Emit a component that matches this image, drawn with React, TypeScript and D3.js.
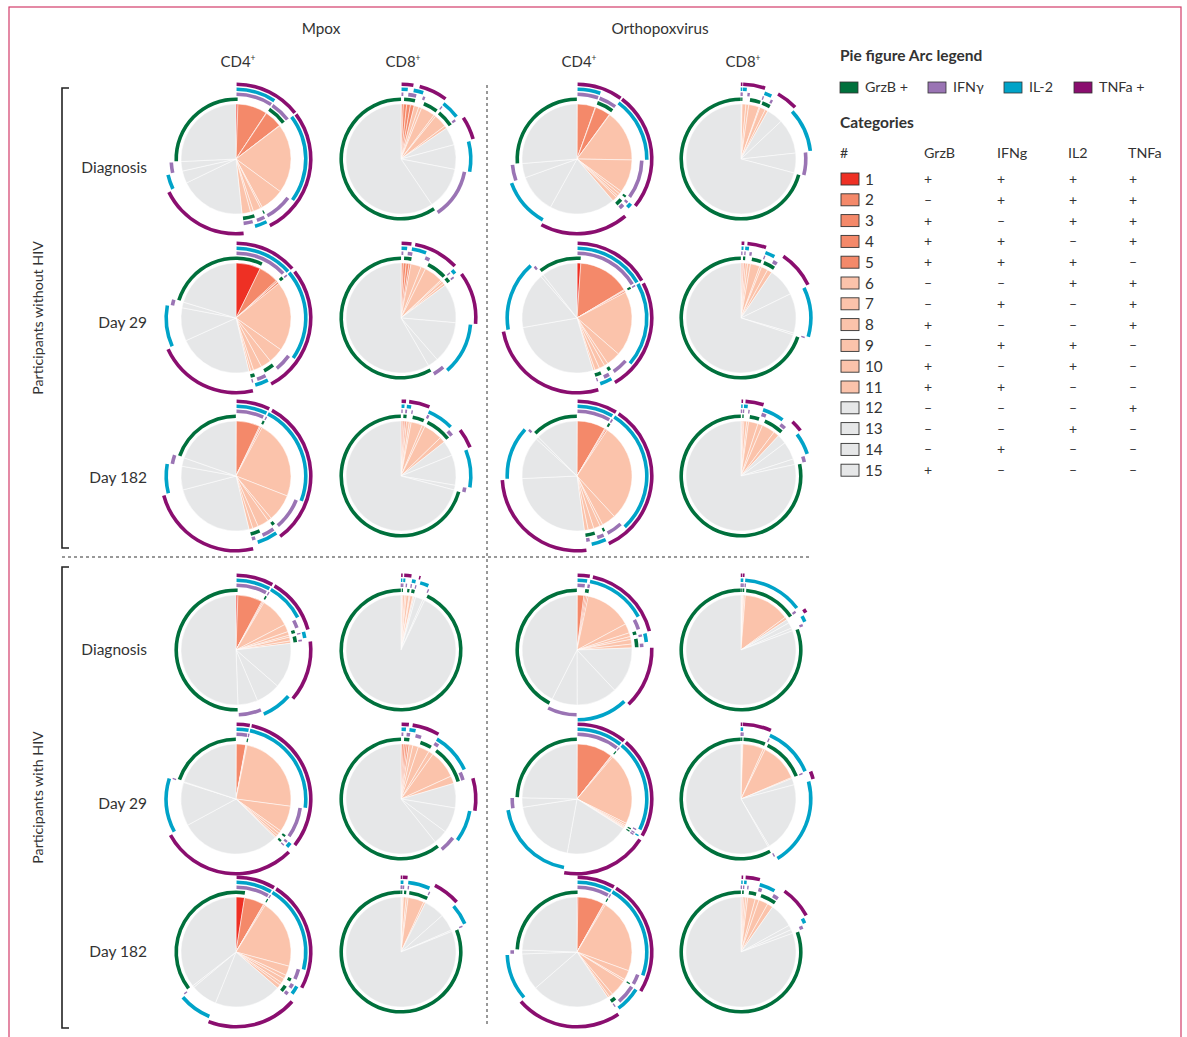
import React from 'react';
import * as d3 from 'd3';

// ---------- categories & signatures ----------
const categories = ['1','2','3','4','5','6','7','8','9','10','11','12','13','14','15'];
const grzB = [1,0,1,1,1,0,0,1,0,1,1,0,0,0,1];
const ifng = [1,1,0,1,1,0,1,0,1,0,1,0,0,1,0];
const il2  = [1,1,1,0,1,1,0,0,1,1,0,0,1,0,0];
const tnfa = [1,1,1,1,0,1,1,1,0,0,0,1,0,0,0];
const categoryColors = ['#EE3024','#F4896A','#F4896A','#F4896A','#F4896A','#FBC3AB','#FBC3AB','#FBC3AB','#FBC3AB','#FBC3AB','#FBC3AB','#E6E7E8','#E6E7E8','#E6E7E8','#E6E7E8'];

const markerNames = ['GrzB','IFNg','IL2','TNFa'];
const markerLegend = ['GrzB +','IFNγ','IL-2','TNFa +'];
const markerColors = ['#00703C','#9A74B4','#00A3C8','#8A0E6F'];

const columnGroups = ['Mpox','Orthopoxvirus'];
const cellTypes = ['CD4','CD8','CD4','CD8'];
const timepoints = ['Diagnosis','Day 29','Day 182'];
const cohorts = ['Participants without HIV','Participants with HIV'];

// ---------- pie values (share of each category) ----------
// order in each inner array: Mpox CD4, Mpox CD8, Orthopoxvirus CD4, Orthopoxvirus CD8
const noHivDiagnosis = [
  [2,31,0.5,18.5,0.5,73,25,2,8,3,9,70,13,10,92],
  [0.5,2,3.5,4,4,5,3,15,2,14,3,19,26,45,214],
  [0.3,19,0.5,16,0.5,54,35,3,3,2,5,69,41,15,94],
  [0.2,0.2,0.3,0.3,0.2,4,3,11,1,6,3,17.5,37,21,255],
];
const noHivDay29 = [
  [26,21,1.5,0.5,2,74,16,11,9,3,2,79,35,6,73],
  [0.5,2,3,3,2,11,5,20,1.5,3,2.5,41.5,44,11,210],
  [4,55,0.7,0.7,1.6,69,15,4,6,5,2,97,59,3,38],
  [0.3,1.2,1,0.5,1.5,2.5,3,10,2,7,5,30,42,2,252],
];
const noHivDay182 = [
  [0.3,25,1,0.5,1.5,83,29,4,12,6,4,89,25,9,70.7],
  [0.3,1.5,1.5,1,1.5,3,2,12,3,20,6,16,32,5,255.2],
  [0.3,30,0.5,1,1.5,104,15,3,7,6,4,95,45,3,44.7],
  [0.3,0.5,0.7,0.5,1,3,2,10,5,14,6,10,19,6,282],
];
const hivDiagnosis = [
  [2,26,1,0.5,1,32,8,4,2,4,2.5,48,26,21,182],
  [0.3,0.3,0.5,0.3,0.6,2,1.5,3,1,3,1,2,8,2,334.5],
  [0.3,7,1.5,1.5,1.5,50,10,4,3,5,4,49,43,27,153],
  [0.2,0.2,0.3,0.2,0.3,0.5,0.3,1,1.5,49,3,4,6,3,290.5],
];
const hivDay29 = [
  [0.3,10,0.5,0.3,0.5,86,28,3,3,2,1,107,46,0.8,71.6],
  [0.5,2,2,2,2,4,6,12,5,30,8,26,27,15,218.5],
  [0.3,38,0.5,0.5,1,76,2,1.5,1,1,0.5,68,71,10,88.7],
  [0.2,0.2,0.2,0.2,0.2,0.5,0.5,22,2,41,1,7,74,1.5,209.5],
];
const hivDay182 = [
  [9,21,0.5,0.5,1,73,10,4,5,3,4,71,28,2,128],
  [0.2,0.2,0.2,0.2,0.2,1,0.5,3,2,17,2,22,18,1.5,292],
  [1,28,0.5,0.5,1,79,10,2,18,4,2,83,39,4,88],
  [0.3,0.3,1,0.5,1,2,2,8,4,10,6,26,5,4,290],
];

const rowsData = [noHivDiagnosis, noHivDay29, noHivDay182, hivDiagnosis, hivDay29, hivDay182];

// ---------- layout ----------
const W = 1187, H = 1037;
const colX = [236, 401, 577, 741];
const rowY = [159, 318, 476, 650, 799, 952];
const rowLabelY = [173, 328, 483, 655, 809, 957];
const R = 55;
const RING0 = 58, RING_STEP = 5, RING_W = 3.6;
const FONT = 'Lato, "Open Sans", sans-serif';
const TXT = '#333';

const TAU = Math.PI * 2;
const PAD = (0.5 * Math.PI) / 180;
const GAP = (0.45 * Math.PI) / 180;

type ArcSeg = { m: number; s: number; e: number; level: number };

function overlaps(a: ArcSeg, b: ArcSeg) {
  for (const sh of [-TAU, 0, TAU]) {
    if (a.s - PAD < b.e + sh && b.s + sh < a.e + PAD) return true;
  }
  return false;
}

function Spice({ values, cx, cy }: { values: number[]; cx: number; cy: number }) {
  const pieData = d3.pie<number>().sort(null).value((d) => d)(values);
  const arcGen = d3.arc<any>();
  const flags = [grzB, ifng, il2, tnfa];
  const n = values.length;
  const placed: ArcSeg[] = [];
  flags.forEach((f, m) => {
    const neg = f.findIndex((v) => !v);
    let cur: { a: number; b: number } | null = null;
    const runs: { a: number; b: number }[] = [];
    for (let k = 1; k <= n; k++) {
      const i = (neg + k) % n;
      if (f[i] && values[i] > 0) {
        if (cur) cur.b = i;
        else cur = { a: i, b: i };
      } else if (cur) {
        runs.push(cur);
        cur = null;
      }
    }
    if (cur) runs.push(cur);
    runs.forEach((r) => {
      const s = pieData[r.a].startAngle;
      let e = pieData[r.b].endAngle;
      if (r.b < r.a) e += TAU;
      const seg: ArcSeg = { m, s, e, level: 0 };
      let lvl = 0;
      placed.forEach((p) => {
        if (p.m !== m && overlaps(seg, p)) lvl = Math.max(lvl, p.level + 1);
      });
      seg.level = lvl;
      placed.push(seg);
    });
  });

  return (
    <g transform={`translate(${cx},${cy})`}>
      {pieData.map((p, i) => (
        <path
          key={'s' + i}
          d={arcGen({ innerRadius: 0, outerRadius: R, startAngle: p.startAngle, endAngle: p.endAngle }) as string}
          fill={categoryColors[i]}
          stroke="#fff"
          strokeWidth={0.5}
        />
      ))}
      {placed.map((a, i) => {
        let s = a.s + GAP;
        let e = a.e - GAP;
        const minLen = (1.2 * Math.PI) / 180;
        if (e - s < minLen) {
          const mid = (a.s + a.e) / 2;
          s = mid - minLen / 2;
          e = mid + minLen / 2;
        }
        const ir = RING0 + a.level * RING_STEP;
        return (
          <path
            key={'a' + i}
            d={arcGen({ innerRadius: ir, outerRadius: ir + RING_W, startAngle: s, endAngle: e }) as string}
            fill={markerColors[a.m]}
          />
        );
      })}
    </g>
  );
}

function Sup({ x, y, base }: { x: number; y: number; base: string }) {
  return (
    <text x={x} y={y} textAnchor="middle" fontSize={15} fontFamily={FONT} fill={TXT}>
      {base}
      <tspan fontSize={8.5} dy={-6}>+</tspan>
    </text>
  );
}

export default function App() {
  const legendX = 840;
  const tableRowY = categories.map((_, i) => 179 + i * 20.8);
  const signCols = [928, 1001, 1073, 1133];
  const headerCols = [924, 997, 1068, 1128];
  const flags = [grzB, ifng, il2, tnfa];
  return (
    <svg
      width={W}
      height={H}
      style={{ position: 'absolute', left: 0, top: 0, background: '#fff' }}
      fontFamily={FONT}
    >
      <rect x={9} y={7} width={1172} height={1040} fill="none" stroke="#D23C6A" strokeWidth={1.2} />

      {/* column headers */}
      <text x={321} y={34} textAnchor="middle" fontSize={15.3} fill={TXT}>{columnGroups[0]}</text>
      <text x={660} y={34} textAnchor="middle" fontSize={15.3} fill={TXT}>{columnGroups[1]}</text>
      {cellTypes.map((c, i) => (
        <Sup key={'h' + i} x={colX[i] + 2} y={67} base={c} />
      ))}

      {/* dividers */}
      <line x1={487} y1={85} x2={487} y2={1026} stroke="#333" strokeWidth={1} strokeDasharray="3,3" />
      <line x1={62} y1={557} x2={810} y2={557} stroke="#333" strokeWidth={1} strokeDasharray="3,3" />

      {/* brackets & cohort labels */}
      {[
        [88, 548],
        [567, 1028],
      ].map(([a, b], i) => (
        <g key={'br' + i}>
          <path d={`M69,${a} H62 V${b} H69`} fill="none" stroke="#222" strokeWidth={1.6} />
          <text
            transform={`translate(43,${(a + b) / 2}) rotate(-90)`}
            textAnchor="middle"
            fontSize={14.2}
            fill={TXT}
          >
            {cohorts[i]}
          </text>
        </g>
      ))}

      {/* row labels */}
      {rowLabelY.map((y, r) => (
        <text key={'rl' + r} x={147} y={y} textAnchor="end" fontSize={15.5} fill={TXT}>
          {timepoints[r % 3]}
        </text>
      ))}

      {/* pies */}
      {rowsData.map((row, r) =>
        row.map((vals, c) => <Spice key={`p${r}-${c}`} values={vals} cx={colX[c]} cy={rowY[r]} />)
      )}

      {/* arc legend */}
      <text x={legendX} y={61} fontSize={15.5} fontWeight="bold" fill={TXT}>Pie figure Arc legend</text>
      {markerLegend.map((m, i) => {
        const xs = [840, 928, 1004, 1074];
        return (
          <g key={'ml' + i}>
            <rect x={xs[i]} y={82} width={18} height={11} fill={markerColors[i]} stroke="#333" strokeWidth={0.8} />
            <text x={xs[i] + 25} y={92} fontSize={14.3} fill={TXT}>{m}</text>
          </g>
        );
      })}

      {/* categories table */}
      <text x={legendX} y={128} fontSize={15.5} fontWeight="bold" fill={TXT}>Categories</text>
      <text x={legendX} y={158} fontSize={14} fill={TXT}>#</text>
      {markerNames.map((m, i) => (
        <text key={'mh' + i} x={headerCols[i]} y={158} fontSize={14.3} fill={TXT}>{m}</text>
      ))}
      {categories.map((c, i) => (
        <g key={'cat' + i}>
          <rect x={841} y={tableRowY[i] - 6} width={18} height={12} fill={categoryColors[i]} stroke="#333" strokeWidth={0.9} />
          <text x={865} y={tableRowY[i] + 5.5} fontSize={15.3} fill={TXT}>{c}</text>
          {flags.map((f, j) => (
            <text key={'sg' + j} x={signCols[j]} y={tableRowY[i] + 5} textAnchor="middle" fontSize={14} fill={TXT}>
              {f[i] ? '+' : '–'}
            </text>
          ))}
        </g>
      ))}
    </svg>
  );
}
